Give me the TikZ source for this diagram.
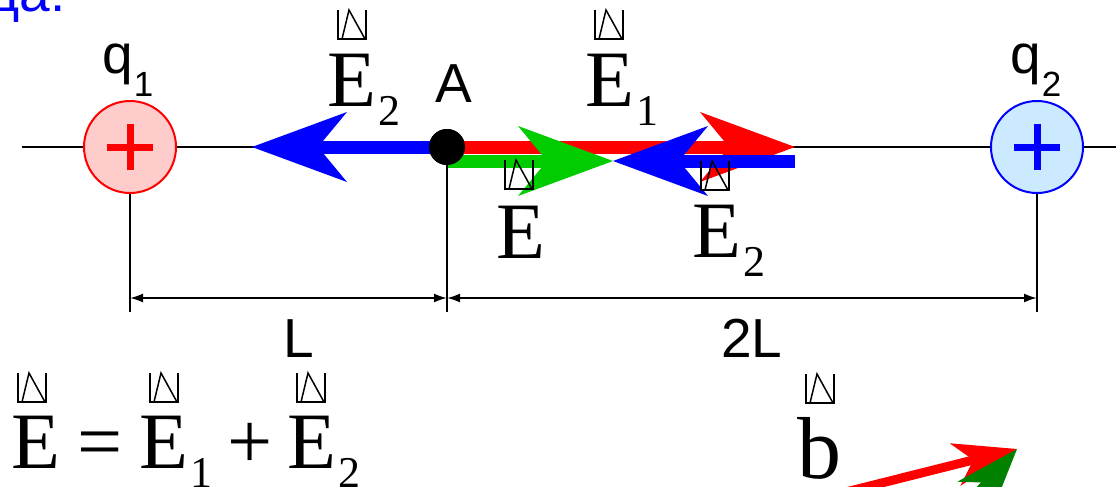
\documentclass[tikz,border=0pt]{standalone}
\usepackage{fontspec}
\setmainfont{Liberation Serif}
\newfontfamily\labelfont{Liberation Sans}
\usetikzlibrary{arrows.meta}
\definecolor{qblue}{RGB}{204,234,255}
\newcommand{\lowsub}[1]{\kern2pt\raisebox{-19pt}{\fontsize{44}{44}\selectfont #1}}
\newcommand{\qsub}[1]{\kern1pt\raisebox{-23pt}{\fontsize{35}{35}\selectfont #1}}
\tikzset{
  vmark/.pic={
    \draw[line width=1.5pt,line join=miter] (-14,-29) -- (-14,0) -- (14,0) -- (14,-29);
    \draw[line width=1.5pt] (-10,0) -- (-3,-29) -- (13,0);
  }
}
\begin{document}
\begin{tikzpicture}[x=1pt,y=-1pt,line join=miter,
  vecE/.style={inner sep=0pt,anchor=base west,font=\fontsize{80}{80}\selectfont},
  sans/.style={inner sep=0pt,anchor=base west,font=\labelfont\fontsize{55}{55}\selectfont},
  charge/.style={circle,minimum size=92pt,inner sep=0pt,line width=2pt},
  field/.style={line width=13pt,-{Stealth[length=95pt,width=70pt,inset=29pt,line width=0pt]}},
  dimline/.style={line width=2pt,{Latex[length=13pt,width=9pt]}-{Latex[length=13pt,width=9pt]}}]
  \useasboundingbox (0,0) rectangle (1116,487);
  \clip (0,0) rectangle (1116,487);
  % charges and axis
  \node[charge,draw=red,fill=red!20] (q1) at (130,147) {};
  \node[charge,draw=blue,fill=qblue] (q2) at (1037,147) {};
  \node[circle,fill=black,minimum size=36pt,inner sep=0pt] (A) at (447,147) {};
  \coordinate (axL) at (22,147);
  \coordinate (axR) at (1116,147);
  \draw[line width=2pt] (axL) -- (q1) (q1) -- (A) (A) -- (q2) (q2) -- (axR);
  \draw[red,line width=7pt] ([xshift=-23pt]q1.center) -- ([xshift=23pt]q1.center)
    ([yshift=-23pt]q1.center) -- ([yshift=23pt]q1.center);
  \draw[blue,line width=7pt] ([xshift=-23pt]q2.center) -- ([xshift=23pt]q2.center)
    ([yshift=-23pt]q2.center) -- ([yshift=23pt]q2.center);
  % field vectors at A
  \coordinate (tipE1) at (795,147);
  \coordinate (tailE2) at (795,161);
  \coordinate (tipE) at (613,161);
  \coordinate (tipE2) at (252,147);
  \draw[field,red] (A.center) -- (tipE1);
  \draw[field,green!80!black] ([yshift=-14pt]A.center) -- (tipE);
  \draw[field,blue] (tailE2) -- (tipE);
  \draw[field,blue] (A.center) -- (tipE2);
  \node[circle,fill=black,minimum size=36pt,inner sep=0pt] at (A) {};
  % distances
  \coordinate (L1) at (130,298);
  \coordinate (L2) at (447,298);
  \coordinate (L3) at (1037,298);
  \draw[line width=2pt] (q1.south) -- (130,312);
  \draw[line width=2pt] (A.south) -- (447,312);
  \draw[line width=2pt] (q2.south) -- (1037,312);
  \draw[dimline] (L1) -- (L2);
  \draw[dimline] (L2) -- (L3);
  \node[sans] (lL) at (283,357) {L};
  \node[sans] (l2L) at (721,357) {2L};
  % labels
  \node[sans,anchor=base east,text=blue] (intro) at (66,12) {да:};
  \node[sans] (lq1) at (102,74) {q\qsub{1}};
  \node[sans] (lq2) at (1010,74) {q\qsub{2}};
  \node[sans] (lA) at (435,102) {A};
  \node[vecE] (E2up) at (327,106) {E\lowsub{2}};
  \node[vecE] (E1up) at (585,106) {E\lowsub{1}};
  \node[vecE] (Eres) at (496,258) {E};
  \node[vecE] (E2down) at (692,257) {E\lowsub{2}};
  \pic at (352,39) {vmark};
  \pic at (609,39) {vmark};
  \pic at (519,189) {vmark};
  \pic at (715,190) {vmark};
  % sum
  \node[vecE] (Esum) at (11,468) {E};
  \node[vecE,anchor=base] (eqsign) at (100,468) {=};
  \node[vecE] (E1sum) at (139,468) {E\lowsub{1}};
  \node[vecE,anchor=base] (plussign) at (250,468) {+};
  \node[vecE] (E2sum) at (287,468) {E\lowsub{2}};
  \pic at (32,402) {vmark};
  \pic at (164,402) {vmark};
  \pic at (311,402) {vmark};
  % b
  \node[vecE,font=\fontsize{88}{88}\selectfont] (bvec) at (797,478) {b};
  \pic at (820,403) {vmark};
  \coordinate (bTip) at (1017,449);
  \draw[red,line width=9pt,-{Stealth[length=64pt,width=44pt,inset=19pt,line width=0pt]}] (790,506) -- (bTip);
  \draw[green!50!black,line width=10pt,-{Stealth[length=64pt,width=46pt,inset=19pt,line width=0pt]}] (917,562) -- (bTip);
\end{tikzpicture}
\end{document}
